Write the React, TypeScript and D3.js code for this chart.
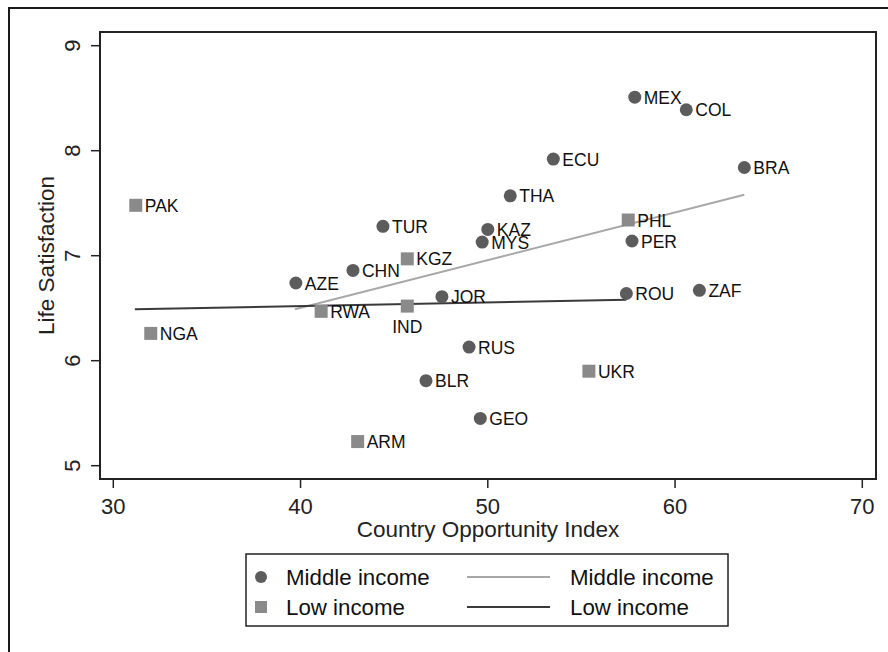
import React, { useEffect, useRef } from 'react';
import * as d3 from 'd3';

// country codes, Country Opportunity Index, Life Satisfaction, income group
const countries = ['PAK', 'NGA', 'RWA', 'KGZ', 'IND', 'ARM', 'UKR', 'PHL',
  'AZE', 'CHN', 'TUR', 'JOR', 'KAZ', 'MYS', 'THA', 'ECU', 'MEX', 'COL', 'BRA', 'PER', 'ROU', 'ZAF', 'RUS', 'BLR', 'GEO'];
const opportunity = [31.2, 32.0, 41.1, 45.7, 45.7, 43.05, 55.4, 57.5,
  39.75, 42.8, 44.4, 47.55, 50.0, 49.7, 51.2, 53.5, 57.85, 60.6, 63.7, 57.7, 57.4, 61.3, 49.0, 46.7, 49.6];
const satisfaction = [7.48, 6.26, 6.47, 6.97, 6.52, 5.23, 5.9, 7.34,
  6.74, 6.86, 7.28, 6.61, 7.25, 7.13, 7.57, 7.92, 8.51, 8.39, 7.84, 7.14, 6.64, 6.67, 6.13, 5.81, 5.45];
const income = ['Low', 'Low', 'Low', 'Low', 'Low', 'Low', 'Low', 'Low',
  'Middle', 'Middle', 'Middle', 'Middle', 'Middle', 'Middle', 'Middle', 'Middle', 'Middle', 'Middle', 'Middle', 'Middle', 'Middle', 'Middle', 'Middle', 'Middle', 'Middle'];

// fitted lines (endpoints)
const fitMiddleX = [39.7, 63.7];
const fitMiddleY = [6.49, 7.58];
const fitLowX = [31.15, 57.4];
const fitLowY = [6.49, 6.58];

const xTicks = [30, 40, 50, 60, 70];
const yTicks = [5, 6, 7, 8, 9];

const FONT = '"Liberation Sans", Arial, Helvetica, sans-serif';
const MID_COLOR = '#5c5c5c';
const LOW_COLOR = '#8a8a8a';
const MID_LINE = '#a8a8a8';
const LOW_LINE = '#3a3a3a';

const App: React.FC = () => {
  const svgRef = useRef<SVGSVGElement>(null);

  useEffect(() => {
    if (!svgRef.current) return;
    const svg = d3.select(svgRef.current);
    svg.selectAll('*').remove();

    const plot = { left: 100, right: 876, top: 32, bottom: 479 };
    const x = d3.scaleLinear().domain([30, 70]).range([113.3, 862.3]);
    const y = d3.scaleLinear().domain([5, 9]).range([465.7, 45.7]);

    svg.append('rect').attr('width', 888).attr('height', 652).attr('fill', '#ffffff');

    // outer frame
    svg.append('rect')
      .attr('x', 9).attr('y', 8).attr('width', 900).attr('height', 700)
      .attr('fill', 'none').attr('stroke', '#1a1a1a').attr('stroke-width', 2);

    // plot region
    svg.append('rect')
      .attr('x', plot.left).attr('y', plot.top)
      .attr('width', plot.right - plot.left).attr('height', plot.bottom - plot.top)
      .attr('fill', 'none').attr('stroke', '#222').attr('stroke-width', 2);

    // y axis ticks + labels (rotated)
    yTicks.forEach(t => {
      svg.append('line')
        .attr('x1', plot.left - 9).attr('x2', plot.left)
        .attr('y1', y(t)).attr('y2', y(t))
        .attr('stroke', '#222').attr('stroke-width', 1.5);
      svg.append('text')
        .attr('transform', `translate(72,${y(t)}) rotate(-90)`)
        .attr('text-anchor', 'middle').attr('dominant-baseline', 'central')
        .attr('font-family', FONT).attr('font-size', 22).attr('fill', '#222')
        .text(t);
    });

    // x axis ticks + labels
    xTicks.forEach(t => {
      svg.append('line')
        .attr('x1', x(t)).attr('x2', x(t))
        .attr('y1', plot.bottom).attr('y2', plot.bottom + 9)
        .attr('stroke', '#222').attr('stroke-width', 1.5);
      svg.append('text')
        .attr('x', x(t)).attr('y', 514)
        .attr('text-anchor', 'middle')
        .attr('font-family', FONT).attr('font-size', 22).attr('fill', '#222')
        .text(t);
    });

    svg.append('text')
      .attr('x', (plot.left + plot.right) / 2).attr('y', 537)
      .attr('text-anchor', 'middle')
      .attr('font-family', FONT).attr('font-size', 22.5).attr('fill', '#222')
      .text('Country Opportunity Index');

    svg.append('text')
      .attr('transform', `translate(46,${(plot.top + plot.bottom) / 2}) rotate(-90)`)
      .attr('text-anchor', 'middle').attr('dominant-baseline', 'central')
      .attr('font-family', FONT).attr('font-size', 22.5).attr('fill', '#222')
      .text('Life Satisfaction');

    // fitted lines
    const line = d3.line<[number, number]>().x(d => x(d[0])).y(d => y(d[1]));
    svg.append('path')
      .attr('d', line(fitMiddleX.map((v, i) => [v, fitMiddleY[i]] as [number, number])))
      .attr('stroke', MID_LINE).attr('stroke-width', 2).attr('fill', 'none');
    svg.append('path')
      .attr('d', line(fitLowX.map((v, i) => [v, fitLowY[i]] as [number, number])))
      .attr('stroke', LOW_LINE).attr('stroke-width', 2).attr('fill', 'none');

    // points + labels
    countries.forEach((c, i) => {
      const cx = x(opportunity[i]);
      const cy = y(satisfaction[i]);
      if (income[i] === 'Middle') {
        svg.append('circle').attr('cx', cx).attr('cy', cy).attr('r', 6.5).attr('fill', MID_COLOR);
      } else {
        svg.append('rect').attr('x', cx - 6.5).attr('y', cy - 6.5)
          .attr('width', 13).attr('height', 13).attr('fill', LOW_COLOR);
      }
      const below = c === 'IND';
      svg.append('text')
        .attr('x', below ? cx : cx + 9)
        .attr('y', below ? cy + 27 : cy + 6.5)
        .attr('text-anchor', below ? 'middle' : 'start')
        .attr('font-family', FONT).attr('font-size', 17.5).attr('fill', '#111')
        .text(c);
    });

    // legend
    const lg = svg.append('g');
    lg.append('rect')
      .attr('x', 246).attr('y', 554).attr('width', 482).attr('height', 72)
      .attr('fill', '#fff').attr('stroke', '#222').attr('stroke-width', 1.5);
    const rows = [
      { label: 'Middle income', color: MID_COLOR, line: MID_LINE, shape: 'circle', yy: 577 },
      { label: 'Low income', color: LOW_COLOR, line: LOW_LINE, shape: 'square', yy: 607 },
    ];
    rows.forEach(r => {
      if (r.shape === 'circle') {
        lg.append('circle').attr('cx', 261).attr('cy', r.yy).attr('r', 6).attr('fill', r.color);
      } else {
        lg.append('rect').attr('x', 255).attr('y', r.yy - 6).attr('width', 12).attr('height', 12).attr('fill', r.color);
      }
      lg.append('text')
        .attr('x', 286).attr('y', r.yy + 8)
        .attr('font-family', FONT).attr('font-size', 22.3).attr('fill', '#111')
        .text(r.label);
      lg.append('line')
        .attr('x1', 467).attr('x2', 550).attr('y1', r.yy).attr('y2', r.yy)
        .attr('stroke', r.line).attr('stroke-width', 2);
      lg.append('text')
        .attr('x', 570).attr('y', r.yy + 8)
        .attr('font-family', FONT).attr('font-size', 22.3).attr('fill', '#111')
        .text(r.label);
    });
  }, []);

  return (
    <svg ref={svgRef} width={888} height={652}
      style={{ position: 'absolute', left: 0, top: 0, display: 'block' }} />
  );
};

export default App;
